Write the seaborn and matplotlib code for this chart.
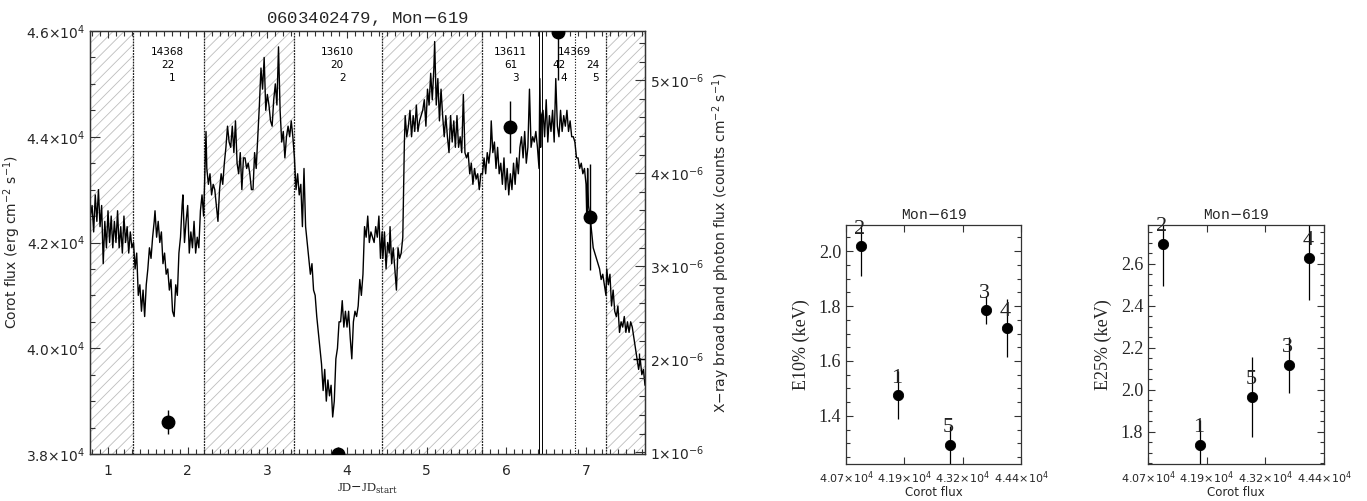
import numpy as np
import pandas as pd
import matplotlib
matplotlib.use("Agg")
import matplotlib.pyplot as plt
import seaborn as sns
from matplotlib.ticker import MultipleLocator, FixedLocator, FuncFormatter

sns.set_theme(style="ticks")
plt.rcParams['font.family'] = ['DejaVu Sans']
plt.rcParams['hatch.linewidth'] = 0.6

# ---------------- data ----------------
# CoRoT light curve (JD - JD_start, flux in units of 1e4 erg cm^-2 s^-1)
jd = [0.78, 0.80, 0.82, 0.84, 0.86, 0.88, 0.90, 0.92, 0.94, 0.96, 0.98, 1.00, 1.02, 1.04, 1.06, 1.08,
      1.10, 1.12, 1.14, 1.16, 1.18, 1.20, 1.22, 1.24, 1.26, 1.28, 1.30,
      1.32, 1.34, 1.36, 1.38, 1.40, 1.42, 1.44, 1.46, 1.48, 1.50, 1.52, 1.54, 1.56, 1.58, 1.59, 1.61,
      1.63, 1.65, 1.67, 1.69, 1.71, 1.73, 1.75, 1.77, 1.79, 1.81, 1.83, 1.85, 1.87, 1.89, 1.91, 1.93,
      1.94, 1.96, 1.98, 2.00, 2.02, 2.04, 2.06, 2.08, 2.10, 2.12, 2.14, 2.16, 2.18, 2.20,
      2.21, 2.23, 2.24, 2.26, 2.28, 2.30, 2.32, 2.34, 2.36, 2.38, 2.40, 2.42, 2.44, 2.46, 2.48, 2.50,
      2.52, 2.54, 2.56, 2.58, 2.60, 2.62, 2.64, 2.66, 2.68, 2.70, 2.72, 2.74, 2.76, 2.78, 2.80, 2.82,
      2.84, 2.86, 2.88, 2.90, 2.92, 2.94, 2.96, 2.98, 3.00, 3.02, 3.04, 3.06, 3.08, 3.10, 3.12, 3.14,
      3.16, 3.18, 3.20, 3.22, 3.24, 3.26, 3.28, 3.30, 3.32,
      3.34, 3.36, 3.38, 3.40, 3.42, 3.44, 3.46, 3.48, 3.50, 3.52, 3.54, 3.56, 3.58, 3.60, 3.62, 3.64,
      3.66, 3.68, 3.70, 3.72, 3.74, 3.76, 3.78, 3.80, 3.82, 3.84, 3.86, 3.88, 3.90, 3.92, 3.94, 3.96,
      3.98, 4.00, 4.02, 4.04, 4.06, 4.08, 4.10, 4.12, 4.14, 4.16, 4.18, 4.20, 4.22, 4.24, 4.26, 4.28,
      4.30, 4.32, 4.34, 4.36, 4.38, 4.40, 4.42, 4.44,
      4.45, 4.47, 4.49, 4.51, 4.53, 4.54, 4.56, 4.58, 4.60, 4.62, 4.64, 4.66, 4.68, 4.70, 4.72, 4.73,
      4.75, 4.77, 4.79, 4.81, 4.83, 4.85, 4.87, 4.89, 4.91, 4.93, 4.95, 4.97, 4.99, 5.01, 5.03, 5.05,
      5.07, 5.09, 5.10, 5.12, 5.14, 5.16, 5.18, 5.20, 5.22, 5.24, 5.26, 5.28, 5.30, 5.32, 5.34, 5.36,
      5.38, 5.40, 5.42, 5.44, 5.46, 5.48, 5.50, 5.52, 5.54, 5.56, 5.58, 5.60, 5.62, 5.64, 5.66, 5.68,
      5.70, 5.72, 5.74, 5.76, 5.78, 5.80, 5.81, 5.83, 5.85, 5.87, 5.89, 5.91, 5.93, 5.95, 5.97, 5.99,
      6.01, 6.03, 6.05, 6.07, 6.09, 6.11, 6.13, 6.15, 6.17, 6.19, 6.21, 6.23, 6.25, 6.27, 6.29, 6.31,
      6.33, 6.35, 6.37, 6.39, 6.41,
      6.42, 6.43, 6.44, 6.46, 6.48, 6.50, 6.52, 6.54, 6.56, 6.58, 6.60, 6.62, 6.64, 6.66, 6.68, 6.70,
      6.72, 6.74, 6.76, 6.78, 6.80, 6.82, 6.84, 6.86, 6.88, 6.90, 6.92, 6.94, 6.96, 6.98, 7.00, 7.01,
      7.02, 7.03, 7.05, 7.07, 7.09, 7.11, 7.13, 7.15, 7.17, 7.19, 7.21, 7.23, 7.25,
      7.26, 7.28, 7.30, 7.32, 7.34, 7.36, 7.38, 7.40, 7.42, 7.44, 7.46, 7.48, 7.50, 7.52, 7.54, 7.56,
      7.58, 7.60, 7.62, 7.64, 7.66, 7.68, 7.70, 7.72, 7.74]
corot_flux_1e4 = [4.25, 4.27, 4.22, 4.29, 4.24, 4.30, 4.23, 4.27, 4.16, 4.24, 4.19, 4.26, 4.20, 4.25, 4.19, 4.24,
      4.20, 4.26, 4.19, 4.23, 4.18, 4.25, 4.20, 4.23, 4.18, 4.22, 4.19,
      4.20, 4.15, 4.18, 4.10, 4.12, 4.07, 4.11, 4.06, 4.12, 4.15, 4.19, 4.17, 4.21, 4.24, 4.26, 4.21,
      4.24, 4.20, 4.22, 4.16, 4.18, 4.14, 4.15, 4.11, 4.13, 4.07, 4.06, 4.12, 4.10, 4.18, 4.21, 4.27,
      4.29, 4.20, 4.24, 4.27, 4.18, 4.22, 4.19, 4.24, 4.18, 4.21, 4.19, 4.26, 4.29, 4.25,
      4.30, 4.41, 4.34, 4.31, 4.33, 4.29, 4.31, 4.30, 4.27, 4.24, 4.30, 4.33, 4.31, 4.35, 4.38, 4.42,
      4.39, 4.38, 4.42, 4.37, 4.43, 4.35, 4.33, 4.37, 4.30, 4.36, 4.36, 4.34, 4.35, 4.33, 4.30, 4.30,
      4.37, 4.34, 4.40, 4.46, 4.53, 4.49, 4.55, 4.45, 4.48, 4.46, 4.43, 4.42, 4.47, 4.50, 4.46, 4.57,
      4.45, 4.39, 4.41, 4.36, 4.40, 4.42, 4.40, 4.43, 4.40,
      4.36, 4.30, 4.33, 4.29, 4.31, 4.23, 4.34, 4.23, 4.20, 4.17, 4.14, 4.16, 4.11, 4.10, 4.06, 4.03,
      4.00, 3.97, 3.92, 3.96, 3.90, 3.94, 3.91, 3.93, 3.87, 3.90, 3.98, 4.00, 4.05, 4.05, 4.09, 4.04,
      4.07, 4.04, 4.07, 4.02, 3.98, 4.05, 4.07, 4.06, 4.08, 4.13, 4.10, 4.14, 4.23, 4.21, 4.25, 4.20,
      4.22, 4.21, 4.20, 4.23, 4.21, 4.25, 4.17, 4.22,
      4.17, 4.22, 4.15, 4.20, 4.18, 4.23, 4.16, 4.19, 4.15, 4.11, 4.19, 4.17, 4.18, 4.21, 4.39, 4.44,
      4.40, 4.42, 4.45, 4.40, 4.44, 4.41, 4.46, 4.41, 4.43, 4.44, 4.45, 4.47, 4.42, 4.49, 4.46, 4.52,
      4.47, 4.53, 4.58, 4.46, 4.51, 4.43, 4.49, 4.44, 4.40, 4.44, 4.40, 4.37, 4.44, 4.39, 4.43, 4.38,
      4.44, 4.38, 4.40, 4.37, 4.48, 4.37, 4.36, 4.37, 4.33, 4.35, 4.31, 4.34, 4.32, 4.33, 4.30, 4.33,
      4.33, 4.36, 4.33, 4.37, 4.35, 4.38, 4.43, 4.37, 4.39, 4.34, 4.38, 4.33, 4.35, 4.31, 4.36, 4.30,
      4.34, 4.29, 4.33, 4.30, 4.35, 4.31, 4.36, 4.33, 4.38, 4.40, 4.36, 4.41, 4.35, 4.38, 4.49, 4.38,
      4.40, 4.39, 4.41, 4.38, 4.34,
      4.51, 4.38, 4.44, 4.45, 4.40, 4.47, 4.39, 4.44, 4.41, 4.45, 4.39, 4.51, 4.42, 4.40, 4.45, 4.41,
      4.44, 4.42, 4.45, 4.41, 4.43, 4.40, 4.40, 4.39, 4.36, 4.36, 4.34, 4.35, 4.33, 4.34, 4.31, 4.24,
      4.34, 4.27, 4.25, 4.22, 4.19, 4.18, 4.17, 4.16, 4.15, 4.13, 4.14, 4.12, 4.10,
      4.15, 4.12, 4.14, 4.08, 4.11, 4.07, 4.06, 4.08, 4.03, 4.05, 4.04, 4.06, 4.03, 4.05, 4.03, 4.05,
      4.04, 4.02, 4.00, 3.98, 3.96, 3.98, 3.95, 3.96, 3.93]

# X-ray observations (right axis)
xray_jd = [1.75, 3.89, 6.05, 6.65, 7.05]
xray_flux = [1.32e-6, 0.98e-6, 4.50e-6, 5.52e-6, 3.53e-6]
xray_err = [0.13e-6, 0.08e-6, 0.28e-6, 0.52e-6, 0.57e-6]
extra_cross_jd = [7.665]
extra_cross_flux = [2.0e-6]

# observation windows
obs_bounds = [1.31, 2.20, 3.33, 4.44, 5.69, 7.25]
obs_solid = [6.41, 6.45]
obs_dotted = [6.86]
hatched = [(0.774, 1.31), (2.20, 3.33), (4.44, 5.69), (7.25, 7.74)]
ann_text = ["14368", "22", "1", "13610", "20", "2", "13611", "61", "3", "14369", "42", "4", "24", "5"]
ann_x = [1.75, 1.75, 1.81, 3.88, 3.87, 3.95, 6.05, 6.06, 6.12, 6.85, 6.66, 6.72, 7.08, 7.12]
ann_row = [0, 1, 2, 0, 1, 2, 0, 1, 2, 0, 1, 2, 1, 2]

# hardness vs flux
seg_id = ["1", "2", "3", "4", "5"]
seg_corot = [41796, 41016, 43662, 44095, 42892]
e10 = [1.476, 2.018, 1.785, 1.720, 1.295]
e10_err = [0.087, 0.11, 0.05, 0.105, 0.07]
e25 = [1.737, 2.696, 2.118, 2.629, 1.966]
e25_err = [0.12, 0.20, 0.135, 0.20, 0.19]
small_xticks = ["4.07", "4.19", "4.32", "4.44"]

# ---------------- figure ----------------
fig = plt.figure(figsize=(13.67, 5.01), dpi=100)
ax = fig.add_axes([90/1367, 1-454/501, 555/1367, 423/501])
ax2 = ax.twinx()

lc = pd.DataFrame({"jd": jd, "flux": np.array(corot_flux_1e4) * 1e4})

xmin, xmax = 0.774, 7.74
for a, b in hatched:
    ax.axvspan(a, b, facecolor='none', edgecolor='#bdbdbd', hatch='///', lw=0, zorder=0)
for xb in obs_bounds:
    ax.axvline(xb, color='#222222', lw=0.9, ls=(0, (1.5, 0.8)), zorder=1)
for xb in obs_solid:
    ax.axvline(xb, color='black', lw=0.7, zorder=1)
for xb in obs_dotted:
    ax.axvline(xb, color='black', lw=0.8, ls=(0, (1, 1.5)), zorder=1)

sns.lineplot(data=lc, x="jd", y="flux", ax=ax, sort=False, estimator=None,
             color='black', lw=1.0, zorder=3)
ax.set_xlim(xmin, xmax)
ax.set_ylim(3.8e4, 4.6e4)

ax2.errorbar(xray_jd, xray_flux, yerr=xray_err, fmt='o', color='black', ms=9,
             elinewidth=1.0, capsize=0, zorder=5)
ax2.plot(extra_cross_jd, extra_cross_flux, '+', color='black', ms=9, mew=1.0)
ax2.set_ylim(0.98e-6, 5.53e-6)

row_y = [0.950, 0.920, 0.889]
for t, x, r in zip(ann_text, ann_x, ann_row):
    ax.text(x, row_y[r], t, transform=ax.get_xaxis_transform(), ha='center', va='center',
            fontsize=7.5, color='black')

ax.xaxis.set_major_locator(MultipleLocator(1))
ax.xaxis.set_minor_locator(MultipleLocator(0.1))
ax.yaxis.set_major_locator(MultipleLocator(2000))
ax.yaxis.set_minor_locator(MultipleLocator(500))
ax.yaxis.set_major_formatter(FuncFormatter(lambda v, p: r'$%.1f{\times}10^{4}$' % (v / 1e4)))
ax2.yaxis.set_major_locator(MultipleLocator(1e-6))
ax2.yaxis.set_minor_locator(MultipleLocator(0.2e-6))
ax2.yaxis.set_major_formatter(FuncFormatter(lambda v, p: r'$%d{\times}10^{-6}$' % round(v * 1e6)))

ax.tick_params(which='both', direction='in', top=True, bottom=True, left=True, right=False,
               labelsize=10, width=0.8, color='#333333')
ax.tick_params(which='major', length=7)
ax.tick_params(which='minor', length=3.5)
ax.tick_params(axis='x', which='major', length=5, pad=7)
ax2.tick_params(which='both', direction='in', right=True, labelsize=10, width=0.8, color='#333333')
ax2.tick_params(which='major', length=7)
ax2.tick_params(which='minor', length=4)

ax.set_xlabel(r'JD$-$JD$_{\rm start}$', fontsize=9, family='Liberation Serif',
              math_fontfamily='dejavuserif', labelpad=3)
ax.set_ylabel(r'Corot flux (erg cm$^{-2}$ s$^{-1}$)', fontsize=10, labelpad=2)
ax2.set_ylabel(r'X$-$ray broad band photon flux (counts cm$^{-2}$ s$^{-1}$)', fontsize=10, labelpad=5)
ax.set_title('0603402479, Mon$-$619', fontsize=12.5, family='Liberation Mono', pad=6)
for s in list(ax.spines.values()) + list(ax2.spines.values()):
    s.set_linewidth(0.9)
    s.set_color('#333333')


def small_panel(rect, yvals, yerr, ylim, ylabel, ymaj):
    a = fig.add_axes(rect)
    df = pd.DataFrame({"corot": seg_corot, "e": yvals})
    a.errorbar(seg_corot, yvals, yerr=yerr, fmt='none', ecolor='black', elinewidth=0.9, capsize=0)
    sns.scatterplot(data=df, x="corot", y="e", ax=a, color='black', s=55, edgecolor='black', zorder=4)
    for lab, xv, yv in zip(seg_id, seg_corot, yvals):
        a.annotate(lab, (xv, yv), xytext=(-1, 9), textcoords='offset points', ha='center',
                   va='baseline', fontsize=16, family='Liberation Serif', color='#222222')
    a.set_xlim(40700, 44400)
    a.set_ylim(*ylim)
    a.xaxis.set_major_locator(FixedLocator(np.linspace(40700, 44400, 4)))
    a.set_xticklabels([r'$%s{\times}10^{4}$' % t for t in small_xticks])
    a.yaxis.set_major_locator(MultipleLocator(ymaj))
    a.yaxis.set_minor_locator(MultipleLocator(0.05))
    a.yaxis.set_major_formatter(FuncFormatter(lambda v, p: '%.1f' % v))
    a.tick_params(which='both', direction='in', top=True, right=True, width=0.8, color='#333333')
    a.tick_params(which='major', length=5)
    a.tick_params(which='minor', length=3)
    a.tick_params(axis='x', labelsize=8, pad=4)
    for lbl in a.get_yticklabels():
        lbl.set_family('Liberation Serif')
        lbl.set_fontsize(13)
    a.set_xlabel('Corot flux', fontsize=8.5, labelpad=0)
    a.set_ylabel(ylabel, fontsize=13, family='Liberation Serif', labelpad=6)
    a.set_title('Mon$-$619', fontsize=10.5, family='Liberation Mono', pad=4)
    for s in a.spines.values():
        s.set_linewidth(0.9)
        s.set_color('#333333')
    return a


small_panel([846/1367, 1-464/501, 175/1367, 239/501], e10, e10_err, (1.225, 2.095), 'E10% (keV)', 0.2)
small_panel([1148/1367, 1-464/501, 176/1367, 239/501], e25, e25_err, (1.646, 2.785), 'E25% (keV)', 0.2)

fig.savefig('out.png', dpi=100)
